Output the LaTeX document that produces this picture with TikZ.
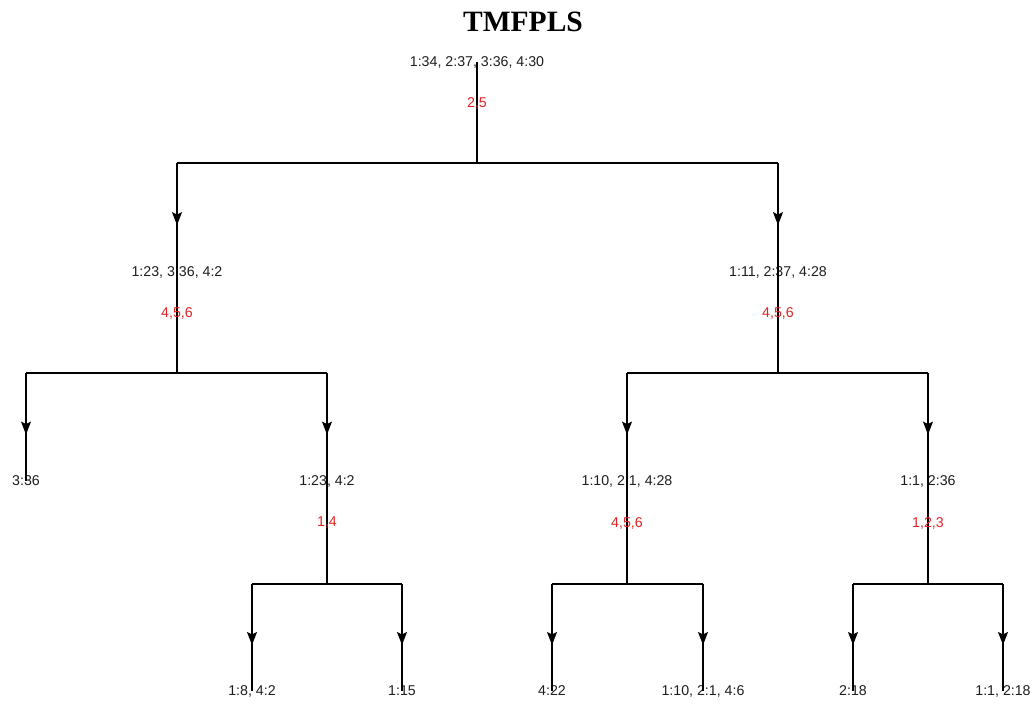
\documentclass[tikz,border=0pt]{standalone}
\usepackage{fontspec}
\setmainfont{Liberation Sans}
\newfontfamily\titlefont{Liberation Serif}
\usetikzlibrary{arrows.meta,decorations.markings}
\definecolor{labred}{RGB}{225,35,35}
\definecolor{ink}{RGB}{30,30,30}
\begin{document}
\begin{tikzpicture}[x=1pt,y=-1pt,
  lbl/.style={font=\fontsize{14.2}{16}\selectfont, inner sep=0pt, text=ink},
  rlab/.style={font=\fontsize{14.2}{16}\selectfont, inner sep=0pt, text=labred},
  wire/.style={line width=1.2pt, draw=black},
  dn/.style={wire, decoration={markings, mark=at position 0.57 with {\arrow{Stealth[length=13pt,width=10pt,inset=2.5pt]}}}, postaction={decorate}},
]
\useasboundingbox (0,0) rectangle (1035,711);

\node[font=\titlefont\bfseries\fontsize{29.5}{32}\selectfont, anchor=base, inner sep=0pt] (title) at (523,32) {TMFPLS};

% nodes
\node[lbl] (r) at (477,62) {1:34, 2:37, 3:36, 4:30};
\node[lbl] (n1) at (177,272) {1:23, 3:36, 4:2};
\node[lbl] (n2) at (778,272) {1:11, 2:37, 4:28};
\node[lbl] (n11) at (26,481) {3:36};
\node[lbl] (n12) at (327,481) {1:23, 4:2};
\node[lbl] (n21) at (627,481) {1:10, 2:1, 4:28};
\node[lbl] (n22) at (928,481) {1:1, 2:36};
\node[lbl] (n121) at (252,691) {1:8, 4:2};
\node[lbl] (n122) at (402,691) {1:15};
\node[lbl] (n211) at (552,691) {4:22};
\node[lbl] (n212) at (703,691) {1:10, 2:1, 4:6};
\node[lbl] (n221) at (853,691) {2:18};
\node[lbl] (n222) at (1003,691) {1:1, 2:18};

% junctions
\coordinate (j0) at (477,163);
\coordinate (j1) at (177,373);
\coordinate (j2) at (778,373);
\coordinate (j12) at (327,584);
\coordinate (j21) at (627,584);
\coordinate (j22) at (928,584);

% root split
\draw[wire] (r.center) -- (j0);
\draw[wire] (n1.center |- j0) -- (n2.center |- j0);
\draw[dn] (n1.center |- j0) -- (n1.center);
\draw[dn] (n2.center |- j0) -- (n2.center);

% n1 split
\draw[wire] (n1.center) -- (j1);
\draw[wire] (n11.center |- j1) -- (n12.center |- j1);
\draw[dn] (n11.center |- j1) -- (n11.center);
\draw[dn] (n12.center |- j1) -- (n12.center);

% n2 split
\draw[wire] (n2.center) -- (j2);
\draw[wire] (n21.center |- j2) -- (n22.center |- j2);
\draw[dn] (n21.center |- j2) -- (n21.center);
\draw[dn] (n22.center |- j2) -- (n22.center);

% n12 split
\draw[wire] (n12.center) -- (j12);
\draw[wire] (n121.center |- j12) -- (n122.center |- j12);
\draw[dn] (n121.center |- j12) -- (n121.center);
\draw[dn] (n122.center |- j12) -- (n122.center);

% n21 split
\draw[wire] (n21.center) -- (j21);
\draw[wire] (n211.center |- j21) -- (n212.center |- j21);
\draw[dn] (n211.center |- j21) -- (n211.center);
\draw[dn] (n212.center |- j21) -- (n212.center);

% n22 split
\draw[wire] (n22.center) -- (j22);
\draw[wire] (n221.center |- j22) -- (n222.center |- j22);
\draw[dn] (n221.center |- j22) -- (n221.center);
\draw[dn] (n222.center |- j22) -- (n222.center);

% split labels (red)
\node[rlab] (s0) at (477,103) {2,5};
\node[rlab] (s1) at (177,313) {4,5,6};
\node[rlab] (s2) at (778,313) {4,5,6};
\node[rlab] (s12) at (327,523) {1,4};
\node[rlab] (s21) at (627,523) {4,5,6};
\node[rlab] (s22) at (928,523) {1,2,3};
\end{tikzpicture}
\end{document}
